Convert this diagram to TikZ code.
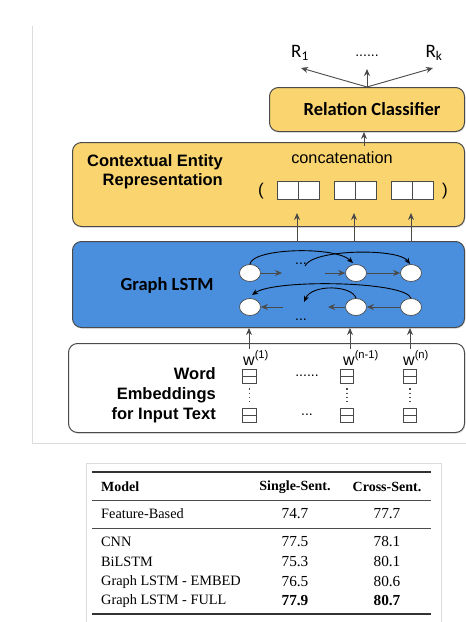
\documentclass[tikz,border=0pt]{standalone}
\usepackage{fontspec}
\setmainfont{Liberation Sans}
\newfontfamily\calfont{Carlito}
\newfontfamily\tmsfont{Liberation Serif}
\usetikzlibrary{arrows.meta,shadows,shapes.geometric}
\definecolor{yel}{HTML}{FAD46E}
\definecolor{blu}{HTML}{4A8EDE}
\definecolor{edge}{HTML}{4A4A4A}
\definecolor{frm}{HTML}{DCDCDC}
\begin{document}
\begin{tikzpicture}[x=1pt,y=-1pt,
  panel/.style={draw=edge, line width=1pt, rounded corners=9pt, anchor=north west, inner sep=0pt,
    drop shadow={opacity=0.25, shadow xshift=0.8pt, shadow yshift=-1.2pt}},
  uparr/.style={draw=edge, line width=0.9pt, -{Stealth[length=7pt,width=6pt]}},
  curv/.style={draw=black, line width=0.9pt, -{Stealth[length=6pt,width=5pt,inset=1.5pt]}},
  cell/.style={draw=edge, fill=white, line width=0.8pt, minimum width=21pt, minimum height=18pt, inner sep=0pt},
  emb/.style={draw=edge, fill=white, line width=0.7pt, minimum width=13.5pt, minimum height=14pt, inner sep=0pt},
  lstm/.style={draw=edge, fill=white, line width=0.7pt, ellipse, minimum width=21pt, minimum height=17pt, inner sep=0pt},
  hdots/.style={inner sep=0pt, font=\fontsize{14}{14}\selectfont},
  tb/.style={inner sep=0pt, font=\tmsfont\fontsize{14.3}{15}\selectfont},
  tn/.style={inner sep=0pt, font=\tmsfont\fontsize{15.3}{16}\selectfont},
  tnb/.style={inner sep=0pt, font=\tmsfont\bfseries\fontsize{15.3}{16}\selectfont},
  th/.style={inner sep=0pt, font=\tmsfont\bfseries\fontsize{14}{15}\selectfont},
]
\useasboundingbox (0,0) rectangle (466,622);
\fill[white] (0,0) rectangle (466,622);
% outer frames
\coordinate (ftop) at (32,26);
\coordinate (fcorner) at (32,443);
\coordinate (fright) at (466,443);
\draw[frm, line width=0.8pt] (ftop) -- (fcorner) -- (fright);
% relation classifier
\node[panel, fill=yel, minimum width=195pt, minimum height=44pt] (rc) at (269,87) {};
\node[font=\calfont\bfseries\fontsize{18.5}{20}\selectfont, inner sep=0pt] (rct) at (372,109) {Relation Classifier};
\coordinate (rctop) at (367,87);
\node[font=\calfont\fontsize{19}{20}\selectfont, inner sep=0pt] (r1) at (300,53) {R\textsubscript{1}};
\node[hdots] (rdots) at (367,56) {......};
\node[font=\calfont\fontsize{19}{20}\selectfont, inner sep=0pt] (rk) at (434,53) {R\textsubscript{k}};
\coordinate (r1end) at (301,68);
\coordinate (rdend) at (367,69);
\coordinate (rkend) at (433,68);
\draw[uparr] (rctop) -- (r1end);
\draw[uparr] (rctop) -- (rdend);
\draw[uparr] (rctop) -- (rkend);
% contextual entity representation
\node[panel, fill=yel, minimum width=392pt, minimum height=84pt] (cer) at (72,142) {};
\node[font=\bfseries\fontsize{16.5}{19}\selectfont, align=right, anchor=east, inner sep=0pt] (cert) at (223,172) {Contextual Entity\\Representation};
\node[font=\fontsize{16.3}{18}\selectfont, inner sep=0pt] (concat) at (342,158) {concatenation};
\coordinate (cstart) at (364,146);
\draw[uparr] (cstart) -- (rc.south -| cstart);
\node[font=\fontsize{17}{18}\selectfont, inner sep=0pt] (lp) at (261,191) {(};
\node[font=\fontsize{17}{18}\selectfont, inner sep=0pt] (rp) at (445,191) {)};
\foreach \i/\x in {1/287.5, 2/344.5, 3/401.5} {
  \node[cell] (ca\i) at (\x,190) {};
  \node[cell] (cb\i) at (\x+21,190) {};
}
% graph lstm
\node[panel, fill=blu, minimum width=392pt, minimum height=86pt] (gl) at (72,241) {};
\node[font=\calfont\bfseries\fontsize{18.5}{20}\selectfont, inner sep=0pt] (glt) at (167,285) {Graph LSTM};
\foreach \i/\x in {1/297, 2/354, 3/411} {
  \coordinate (cin\i) at (\x,213);
  \draw[uparr] (gl.north -| cin\i) -- (cin\i);
}
\node[lstm] (e1) at (250,273) {};
\node[lstm] (e2) at (356,273) {};
\node[lstm] (e3) at (411,273) {};
\node[lstm] (f1) at (250,307) {};
\node[lstm] (f2) at (356,307) {};
\node[lstm] (f3) at (411,307) {};
\node[hdots] (tdots) at (301,264) {...};
\node[hdots] (bdots) at (301,320) {...};
\coordinate (ta) at (282,273);
\coordinate (tb) at (325,273);
\coordinate (ba) at (328,307);
\coordinate (bb) at (283,307);
\draw[uparr] (e1.east) -- (ta);
\draw[uparr] (tb) -- (e2.west);
\draw[uparr] (e2.east) -- (e3.west);
\draw[uparr] (f3.west) -- (f2.east);
\draw[uparr] (f2.west) -- (ba);
\draw[uparr] (bb) -- (f1.east);
% recurrent curves
\coordinate (c1e) at (353,263);
\coordinate (c2s) at (305,266);
\coordinate (c2e) at (410,264);
\coordinate (c3e) at (252,295);
\coordinate (c4e) at (304,302);
\draw[curv] (e1.north) .. controls (252,248) and (335,246) .. (c1e);
\draw[curv] (c2s) .. controls (312,249) and (398,248) .. (c2e);
\draw[curv] (f3.north) .. controls (405,281) and (275,279) .. (c3e);
\draw[curv] (f2.north) .. controls (352,285) and (312,284) .. (c4e);
% word embeddings
\node[panel, fill=white, minimum width=396pt, minimum height=89pt] (we) at (68,343) {};
\node[font=\bfseries\fontsize{16.5}{20}\selectfont, align=right, anchor=east, inner sep=0pt] (wet) at (216,395) {Word\\Embeddings\\for Input Text};
\foreach \i/\x/\lx/\lab in {1/249/243/{w\textsuperscript{(1)}}, 2/350/343/{w\textsuperscript{(n-1)}}, 3/410/403/{w\textsuperscript{(n)}}} {
  \node[font=\fontsize{16}{16}\selectfont, anchor=west, inner sep=0pt] (w\i) at (\lx,358) {\lab};
  \coordinate (wl\i) at (\x,349);
  \draw[uparr] (wl\i) -- (gl.south -| wl\i);
}
\foreach \i/\x in {1/249.5, 2/347, 3/410} {
  \node[emb] (ea\i) at (\x,376) {};
  \draw[edge, line width=0.6pt] (ea\i.west) -- (ea\i.east);
  \node[emb] (eb\i) at (\x,415) {};
  \draw[edge, line width=0.6pt] (eb\i.west) -- (eb\i.east);
  \draw[edge, line width=1.2pt, dash pattern=on 1.2pt off 3pt] (ea\i.south) ++(0,5) -- ++(0,15);
}
\node[hdots] (edots1) at (307,376) {......};
\node[hdots] (edots2) at (307,415) {...};
% table
\node[draw=frm, line width=0.8pt, anchor=north west, minimum width=355pt, minimum height=170pt, inner sep=0pt] (tframe) at (86,463) {};
\draw[black!80, line width=1.2pt] (92,472) -- (431,472);
\draw[black!70, line width=0.7pt] (92,500) -- (431,500);
\draw[black!70, line width=0.7pt] (92,528) -- (431,528);
\draw[black!80, line width=1.2pt] (92,614) -- (431,614);
\node[th, anchor=west] (hm) at (101,487) {Model};
\node[th] (hs) at (295,487) {Single-Sent.};
\node[th] (hc) at (387,487) {Cross-Sent.};
\foreach \r/\y/\m/\s/\c in {1/514/Feature-Based/74.7/77.7, 2/542/CNN/77.5/78.1, 3/562/BiLSTM/75.3/80.1, 4/582/Graph LSTM - EMBED/76.5/80.6} {
  \node[tb, anchor=west] (m\r) at (101,\y) {\m};
  \node[tn] (s\r) at (295,\y) {\s};
  \node[tn] (c\r) at (387,\y) {\c};
}
\node[tb, anchor=west] (m5) at (101,601) {Graph LSTM - FULL};
\node[tnb] (s5) at (295,601) {77.9};
\node[tnb] (c5) at (387,601) {80.7};
\end{tikzpicture}
\end{document}
